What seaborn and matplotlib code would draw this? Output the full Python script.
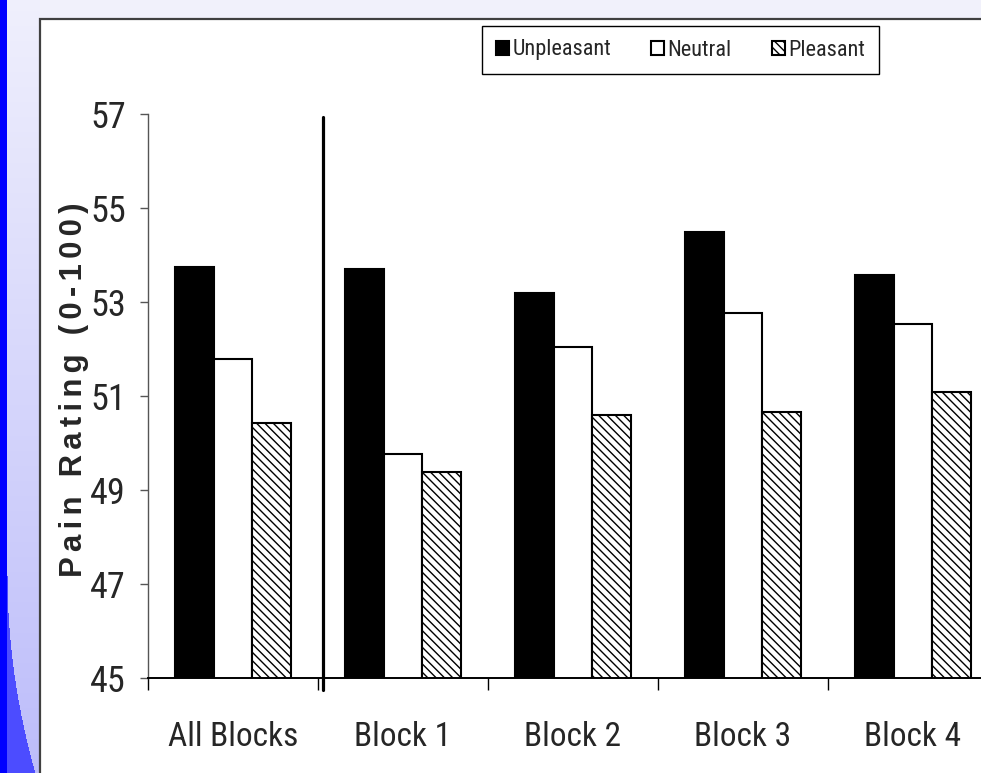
import numpy as np
import pandas as pd
import matplotlib
matplotlib.use("Agg")
import matplotlib.pyplot as plt
import matplotlib.font_manager as fm
from matplotlib.patches import Rectangle
from matplotlib.ticker import FixedLocator
import seaborn as sns

# data
blocks = ["All Blocks", "Block 1", "Block 2", "Block 3", "Block 4"]
conditions = ["Unpleasant", "Neutral", "Pleasant"]
unpleasant = [53.75, 53.71, 53.20, 54.50, 53.57]
neutral = [51.78, 49.77, 52.04, 52.76, 52.53]
pleasant = [50.43, 49.39, 50.60, 50.65, 51.08]
yticks = [45, 47, 49, 51, 53, 55, 57]
ylabel = "Pain Rating (0-100)"

df = pd.DataFrame({
    "block": blocks * 3,
    "condition": np.repeat(conditions, len(blocks)),
    "rating": unpleasant + neutral + pleasant,
})

sns.set_style("ticks")

# the chart uses a narrow Arial; take a narrow/condensed sans if there is one
names = {f.name for f in fm.fontManager.ttflist}
narrow_stretch = "normal"
narrow = None
for cand in ["Liberation Sans Narrow", "Arial Narrow", "Roboto Condensed",
             "Open Sans Condensed", "Noto Sans Condensed", "DejaVu Sans Condensed"]:
    if cand in names:
        narrow = cand
        break
if narrow is None:
    for f in fm.fontManager.ttflist:
        if f.name in ("Noto Sans", "Open Sans", "Roboto", "DejaVu Sans", "Liberation Sans") \
                and str(f.stretch) in ("condensed", "semi-condensed"):
            narrow, narrow_stretch = f.name, "condensed"
            break
if narrow is None:
    narrow = "Liberation Sans"
    ysize, xsize, lsize = 22, 22, 14
else:
    ysize, xsize, lsize = 26, 24, 16
plt.rcParams["font.family"] = [narrow, "DejaVu Sans"]
plt.rcParams["font.stretch"] = narrow_stretch
plt.rcParams["hatch.linewidth"] = 1.0

fig = plt.figure(figsize=(9.81, 7.73), dpi=100, facecolor="#f1f1fb")

# slide background: blue strip on the left and the white chart panel
bg = fig.add_axes([0, 0, 1, 1], zorder=-10)
bg.axis("off")
bg.set_xlim(0, 981)
bg.set_ylim(773, 0)
H, W = 773, 40
yy, xx = np.mgrid[0:H, 0:W]
t = (yy / H)[..., None]
top_c = np.array([0.94, 0.94, 0.99])
bot_c = np.array([0.74, 0.74, 0.98])
img = top_c * (1 - t) + bot_c * t
curve = (yy > 575) & (xx < 7 + 28 * ((yy - 575) / 198.0) ** 2)
img[curve] = [0.30, 0.30, 1.0]
img[xx < 7] = [0.0, 0.0, 1.0]
bg.imshow(img, extent=(0, W, H, 0), aspect="auto", interpolation="nearest")
bg.add_patch(Rectangle((40, 19), 1000, 800, facecolor="white", edgecolor="#404040", lw=1.6))

ax = fig.add_axes([148 / 981, 95 / 773, 833 / 981, 564 / 773])
ax.patch.set_alpha(0)
palette = {"Unpleasant": "black", "Neutral": "white", "Pleasant": "white"}
sns.barplot(data=df, x="block", y="rating", hue="condition", hue_order=conditions,
            palette=palette, saturation=1, width=0.68, errorbar=None,
            edgecolor="black", linewidth=1.5, legend=False, ax=ax)
for bar in ax.containers[2]:
    bar.set_hatch("\\\\\\\\")

ax.set_ylim(45, 57)
ax.set_xlim(-0.5, 4.4)
ax.set_yticks(yticks)
ax.set_xlabel("")
# letter-spaced bold label (Arial-like bold), as in the chart
gap = "\u200a\u200a"
spaced = (gap + " " + gap).join(gap.join(w) for w in ylabel.split(" "))
ax.set_ylabel(spaced, fontsize=26, fontweight="bold",
              family=["Liberation Sans", "DejaVu Sans"], stretch="normal")
ax.yaxis.label.set_va("center")
ax.yaxis.set_label_coords(-0.0888, 0.5106)

for s in ["top", "right"]:
    ax.spines[s].set_visible(False)
ax.spines["left"].set_color("#555555")
ax.spines["left"].set_linewidth(1.0)
ax.spines["bottom"].set_color("black")
ax.spines["bottom"].set_linewidth(1.4)

ax.tick_params(axis="y", length=5.8, width=1, color="#555555", pad=10, labelsize=ysize)
ax.tick_params(axis="x", which="major", length=0, pad=31, labelsize=xsize)
ax.xaxis.set_minor_locator(FixedLocator(np.arange(-0.5, len(blocks), 1)))
ax.tick_params(axis="x", which="minor", length=8.6, width=1, color="black")

# separator between the overall mean and the single blocks
ax.axvline(0.53, ymin=-12 / 564, ymax=(678 - 117) / 564, color="black", lw=2.3, clip_on=False)

ax.legend(handles=ax.containers, labels=conditions, loc="center",
          bbox_to_anchor=(680.5 / 981, 1 - 50 / 773), bbox_transform=fig.transFigure,
          ncol=3, fontsize=lsize, frameon=True, fancybox=False, framealpha=1,
          edgecolor="black", handlelength=0.6, handleheight=0.6,
          handletextpad=0.15, columnspacing=1.8, borderpad=0.6)
ax.get_legend().get_frame().set_linewidth(1.0)

# scale the y label to the length it has in the chart (about 374 px)
fig.canvas.draw()
lab = ax.yaxis.label
ext = lab.get_window_extent()
lab.set_fontsize(lab.get_fontsize() * 374 / ext.height)

fig.savefig("out.png", dpi=100, facecolor=fig.get_facecolor())
